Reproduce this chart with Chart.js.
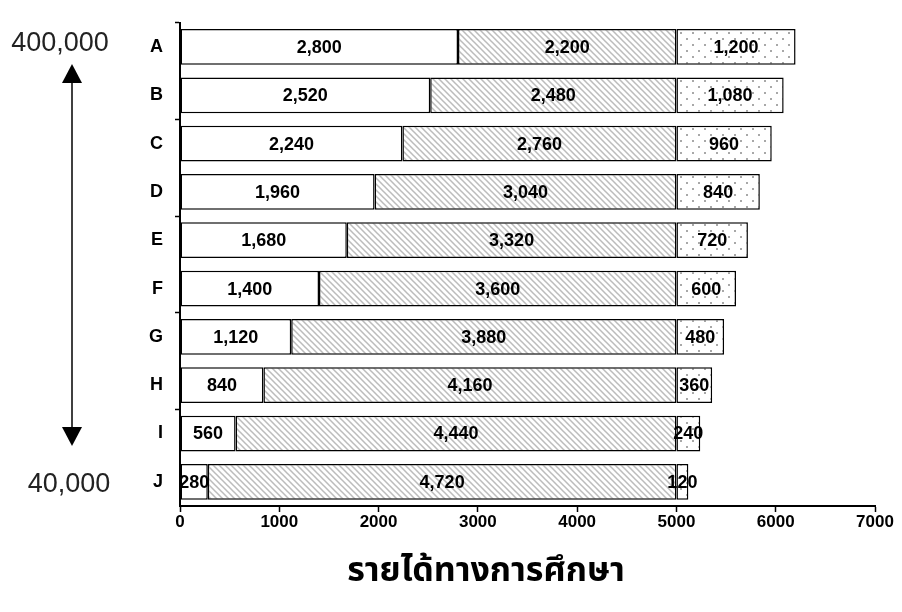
<!DOCTYPE html>
<html>
<head>
<meta charset="utf-8">
<script src="https://cdn.jsdelivr.net/npm/chart.js@4.4.1/dist/chart.umd.min.js"></script>
<style>
  body { margin: 0; background: #fff; }
  #wrap { width: 902px; height: 612px; }
</style>
</head>
<body>
<div id="wrap"><canvas id="incomeChart"></canvas></div>
<script>
const categories = ['A', 'B', 'C', 'D', 'E', 'F', 'G', 'H', 'I', 'J'];
const plainPart = [2800, 2520, 2240, 1960, 1680, 1400, 1120, 840, 560, 280];
const stripedPart = [2200, 2480, 2760, 3040, 3320, 3600, 3880, 4160, 4440, 4720];
const dottedPart = [1200, 1080, 960, 840, 720, 600, 480, 360, 240, 120];
const xTicks = [0, 1000, 2000, 3000, 4000, 5000, 6000, 7000];
const topNote = '400,000';
const bottomNote = '40,000';
const xTitle = 'รายได้ทางการศึกษา';

function stripePattern() {
    const c = document.createElement('canvas');
    c.width = 6; c.height = 6;
    const g = c.getContext('2d');
    g.fillStyle = '#fff';
    g.fillRect(0, 0, 6, 6);
    g.strokeStyle = '#bcbcbc';
    g.lineWidth = 1.5;
    g.beginPath();
    g.moveTo(-1, -1); g.lineTo(7, 7);
    g.moveTo(-7, -1); g.lineTo(1, 7);
    g.moveTo(5, -1); g.lineTo(13, 7);
    g.stroke();
    return g.createPattern(c, 'repeat');
}

function dotPattern() {
    const c = document.createElement('canvas');
    c.width = 12; c.height = 12;
    const g = c.getContext('2d');
    g.fillStyle = '#fff';
    g.fillRect(0, 0, 12, 12);
    g.fillStyle = '#a8a8a8';
    g.fillRect(2, 2, 2, 2);
    g.fillRect(8, 8, 2, 2);
    return g.createPattern(c, 'repeat');
}

// value labels in the middle of every segment
const segmentLabels = {
    id: 'segmentLabels',
    afterDatasetsDraw(chart) {
        const ctx = chart.ctx;
        ctx.save();
        ctx.font = 'bold 18px "Liberation Sans", Arial, sans-serif';
        ctx.fillStyle = '#000';
        ctx.textAlign = 'center';
        ctx.textBaseline = 'middle';
        chart.data.datasets.forEach((ds, i) => {
            chart.getDatasetMeta(i).data.forEach((bar, j) => {
                const v = ds.data[j];
                ctx.fillText(v.toLocaleString('en-US'), (bar.x + bar.base) / 2, bar.y + 1);
            });
        });
        ctx.restore();
    }
};

// range note with double arrow on the left, plus the axis caption
const annotations = {
    id: 'annotations',
    afterDraw(chart) {
        const ctx = chart.ctx;
        ctx.save();
        ctx.fillStyle = '#222';
        ctx.strokeStyle = '#000';
        ctx.font = '27px "Liberation Sans", Arial, sans-serif';
        ctx.textAlign = 'center';
        ctx.textBaseline = 'middle';
        ctx.fillText(topNote, 60, 44);
        ctx.fillText(bottomNote, 69, 485);
        const x = 72;
        ctx.lineWidth = 1.5;
        ctx.beginPath();
        ctx.moveTo(x, 80); ctx.lineTo(x, 430);
        ctx.stroke();
        ctx.fillStyle = '#000';
        ctx.beginPath();
        ctx.moveTo(x, 64); ctx.lineTo(x - 10, 83); ctx.lineTo(x + 10, 83); ctx.closePath();
        ctx.fill();
        ctx.beginPath();
        ctx.moveTo(x, 446); ctx.lineTo(x - 10, 427); ctx.lineTo(x + 10, 427); ctx.closePath();
        ctx.fill();

        ctx.font = 'bold 34px "Noto Sans Thai", "Noto Sans", "DejaVu Sans", sans-serif';
        ctx.fillText(xTitle, 486, 574);
        ctx.restore();
    }
};

const common = {
    borderColor: '#000',
    borderWidth: 1.5,
    borderSkipped: false,
    barPercentage: 0.74,
    categoryPercentage: 1.0
};

new Chart(document.getElementById('incomeChart'), {
    type: 'bar',
    data: {
        labels: categories,
        datasets: [
            Object.assign({ label: 'plain', data: plainPart, backgroundColor: '#fff' }, common),
            Object.assign({ label: 'striped', data: stripedPart, backgroundColor: stripePattern() }, common),
            Object.assign({ label: 'dotted', data: dottedPart, backgroundColor: dotPattern() }, common)
        ]
    },
    options: {
        indexAxis: 'y',
        responsive: true,
        maintainAspectRatio: false,
        animation: false,
        layout: { padding: { top: 10, right: 27, bottom: 0, left: 0 } },
        plugins: {
            legend: { display: false },
            tooltip: { enabled: false }
        },
        scales: {
            x: {
                stacked: true,
                min: 0,
                max: 7000,
                afterBuildTicks(scale) {
                    scale.ticks = xTicks.map(v => ({ value: v }));
                },
                afterFit(scale) { scale.height = 106; },
                border: { color: '#000', width: 2 },
                grid: {
                    drawOnChartArea: false,
                    tickLength: 6,
                    tickColor: '#000',
                    tickWidth: 1.5
                },
                ticks: {
                    color: '#000',
                    padding: 0,
                    maxRotation: 0,
                    callback: v => String(v),
                    font: { family: '"Liberation Sans", Arial, sans-serif', size: 17, weight: 'bold' }
                }
            },
            y: {
                stacked: true,
                afterFit(scale) { scale.width = 180; },
                border: { color: '#000', width: 2 },
                grid: {
                    offset: true,
                    drawOnChartArea: false,
                    tickLength: 5,
                    tickWidth: 1.5,
                    tickColor: ctx => (ctx.index % 2 === 0 ? '#000' : 'rgba(0,0,0,0)')
                },
                ticks: {
                    color: '#000',
                    padding: 12,
                    font: { family: '"Liberation Sans", Arial, sans-serif', size: 18, weight: 'bold' }
                }
            }
        }
    },
    plugins: [segmentLabels, annotations]
});
</script>
</body>
</html>
